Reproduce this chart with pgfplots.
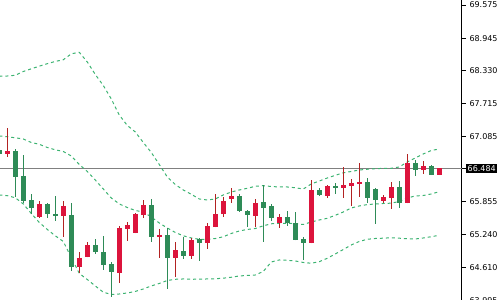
\documentclass[border=0pt]{standalone}
\usepackage{pgfplots}
\pgfplotsset{compat=1.18}
\usepackage{pgfplotstable}
\usepackage{fontspec}
\setmainfont{DejaVu Sans}

\definecolor{cred}{RGB}{220,20,60}
\definecolor{cwick}{RGB}{178,34,34}
\definecolor{cgreen}{RGB}{46,139,87}
\definecolor{cband}{RGB}{60,179,113}
\definecolor{cline}{RGB}{128,128,128}

% bullish candles (red): open = body bottom, close = body top
\pgfplotstableread{
k o h l c
1 66.764 67.249 66.707 66.815
5 65.573 65.869 65.554 65.813
8 65.591 65.869 65.194 65.775
10 64.627 64.905 64.503 64.797
11 64.816 65.094 64.801 65.032
15 64.514 65.397 64.325 65.359
16 65.346 65.472 65.119 65.416
17 65.270 65.643 65.255 65.624
18 65.610 65.888 65.554 65.794
20 65.193 65.340 64.797 65.217
22 64.797 65.094 64.438 64.943
24 64.835 65.170 64.779 65.132
26 65.081 65.453 64.968 65.397
27 65.383 66.002 65.372 65.624
28 65.629 65.945 65.573 65.869
29 65.913 66.115 65.837 65.964
32 65.586 65.907 65.383 65.832
35 65.459 65.624 65.365 65.561
39 65.081 66.266 65.070 66.077
41 65.964 66.172 65.932 66.153
43 66.115 66.512 65.926 66.172
44 66.159 66.285 65.775 66.210
45 66.196 66.588 65.945 66.234
48 65.875 65.983 65.837 65.945
49 65.932 66.229 65.724 66.134
51 65.837 66.758 65.826 66.588
53 66.461 66.626 66.385 66.531
55 66.367 66.493 66.360 66.484
}\redc

% bearish candles (green): open = body top, close = body bottom
\pgfplotstableread{
k o h l c
0 66.833 66.852 66.739 66.764
2 66.815 66.847 65.951 66.329
3 66.342 66.739 65.826 65.875
4 65.888 66.002 65.618 65.743
6 65.813 65.832 65.554 65.629
7 65.624 65.964 65.497 65.591
9 65.599 65.832 64.552 64.627
12 65.032 65.151 64.873 64.911
13 64.905 65.208 64.565 64.665
14 64.678 64.716 64.060 64.527
19 65.794 65.907 65.100 65.194
21 65.227 65.359 64.211 64.797
23 64.924 65.189 64.779 64.835
25 65.151 65.170 64.741 65.081
30 65.964 66.002 65.661 65.680
31 65.680 65.699 65.383 65.605
33 65.850 66.172 65.100 65.737
34 65.775 65.813 65.497 65.554
36 65.567 65.680 65.402 65.448
37 65.448 65.661 65.126 65.138
38 65.151 65.194 64.760 65.081
40 66.077 66.115 65.964 65.983
42 66.153 66.210 66.007 66.121
46 66.229 66.304 65.837 65.932
47 66.096 66.106 65.440 65.894
50 66.134 66.247 65.743 65.837
52 66.588 66.644 66.348 66.461
54 66.531 66.550 66.360 66.367
}\greenc

% Bollinger bands
\pgfplotstableread{
k up mid lo
0 68.227 67.098 65.983
1 68.232 67.085 65.970
2 68.246 67.064 65.930
3 68.317 67.041 65.813
4 68.368 66.975 65.633
5 68.418 66.941 65.463
6 68.465 66.881 65.331
7 68.508 66.837 65.211
8 68.539 66.805 65.104
9 68.652 66.720 64.801
10 68.680 66.559 64.499
11 68.497 66.427 64.385
12 68.261 66.266 64.263
13 68.053 66.096 64.145
14 67.798 65.926 64.102
15 67.495 65.813 64.111
16 67.297 65.746 64.130
17 67.174 65.690 64.159
18 66.975 65.661 64.206
19 66.786 65.567 64.263
20 66.559 65.453 64.310
21 66.323 65.359 64.366
22 66.181 65.274 64.389
23 66.077 65.211 64.395
24 65.996 65.170 64.389
25 65.907 65.145 64.391
26 65.888 65.145 64.395
27 65.907 65.159 64.399
28 65.983 65.193 64.410
29 66.039 65.255 64.427
30 66.077 65.302 64.452
31 66.109 65.331 64.461
32 66.147 65.349 64.470
33 66.159 65.400 64.537
34 66.143 65.438 64.716
35 66.134 65.448 64.754
36 66.134 65.448 64.748
37 66.119 65.440 64.735
38 66.096 65.425 64.707
39 66.191 65.472 64.692
40 66.247 65.510 64.722
41 66.304 65.542 64.786
42 66.355 65.599 64.867
43 66.402 65.661 64.952
44 66.427 65.737 65.038
45 66.455 65.775 65.104
46 66.469 65.801 65.145
47 66.480 65.813 65.160
48 66.486 65.822 65.166
49 66.488 65.828 65.174
50 66.512 65.860 65.166
51 66.607 65.926 65.155
52 66.682 65.964 65.151
53 66.758 65.973 65.170
54 66.824 66.002 65.194
55 66.852 66.045 65.221
}\bands

\begin{document}
\begin{tikzpicture}
\begin{axis}[
  at={(0,-2.5pt)}, anchor=south west,
  scale only axis, width=462pt, height=302.5pt,
  xmin=0.0875, xmax=57.84, ymin=63.95, ymax=69.669,
  axis x line=none, axis y line*=right,
  y axis line style={line width=1pt, black},
  ytick={63.995,64.610,65.240,65.855,67.085,67.715,68.330,68.945,69.575},
  extra y ticks={66.484},
  extra y tick style={yticklabel style={fill=black, text=white, inner sep=1.5pt}},
  tick align=outside, major tick length=4pt,
  tick style={black, line width=0.8pt},
  yticklabel style={font=\fontsize{8}{9}\selectfont, text=black,
    /pgf/number format/fixed, /pgf/number format/fixed zerofill,
    /pgf/number format/precision=3, /pgf/number format/assume math mode=true},
  clip=true,
]
% last price line
\addplot[cline, line width=1pt, no marks, forget plot] coordinates {(-1,66.484) (60,66.484)};
% Bollinger bands
\addplot[cband, line width=1pt, dash pattern=on 3pt off 3pt, no marks] table[x=k,y=up] {\bands};
\addplot[cband, line width=1pt, dash pattern=on 3pt off 3pt, no marks] table[x=k,y=mid] {\bands};
\addplot[cband, line width=1pt, dash pattern=on 3pt off 3pt, no marks] table[x=k,y=lo] {\bands};
% wicks
\addplot[draw=none, mark=none, forget plot,
  error bars/.cd, y dir=plus, y explicit, error mark=none,
  error bar style={draw=cwick, line width=1pt}]
  table[x=k, y=l, y error plus expr=\thisrow{h}-\thisrow{l}] {\redc};
\addplot[draw=none, mark=none, forget plot,
  error bars/.cd, y dir=plus, y explicit, error mark=none,
  error bar style={draw=cgreen, line width=1pt}]
  table[x=k, y=l, y error plus expr=\thisrow{h}-\thisrow{l}] {\greenc};
% bodies
\addplot[draw=none, mark=none, forget plot,
  error bars/.cd, y dir=plus, y explicit, error mark=none,
  error bar style={draw=cred, line width=5pt}]
  table[x=k, y=o, y error plus expr=\thisrow{c}-\thisrow{o}] {\redc};
\addplot[draw=none, mark=none, forget plot,
  error bars/.cd, y dir=plus, y explicit, error mark=none,
  error bar style={draw=cgreen, line width=5pt}]
  table[x=k, y=c, y error plus expr=\thisrow{o}-\thisrow{c}] {\greenc};
\end{axis}
\pgfresetboundingbox
\path[use as bounding box] (0,0) rectangle (501pt,300pt);
\end{tikzpicture}
\end{document}
